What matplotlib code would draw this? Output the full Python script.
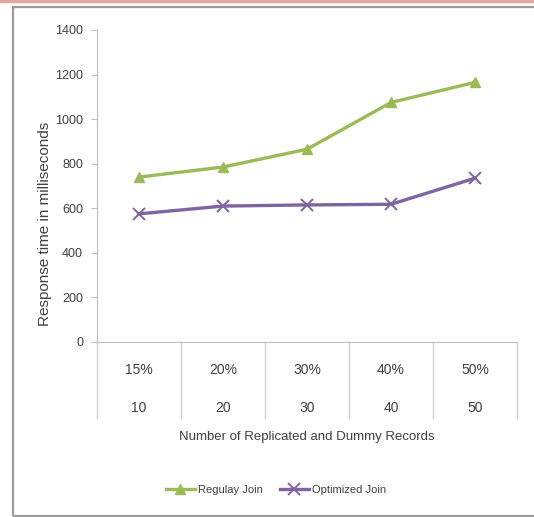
import matplotlib.pyplot as plt
from matplotlib.patches import Rectangle
from matplotlib.lines import Line2D

# Response times (ms) per share of replicated / dummy records
percent_labels = ["15%", "20%", "30%", "40%", "50%"]
record_labels = ["10", "20", "30", "40", "50"]
regular_join = [740, 785, 865, 1075, 1165]
optimized_join = [575, 610, 615, 618, 735]

W, H = 534, 517
plt.rcParams.update({
    "font.family": ["Liberation Sans", "DejaVu Sans"],
    "font.size": 8,
    "text.color": "#404040",
})

fig = plt.figure(figsize=(W / 100, H / 100), dpi=100)

# page strip and chart frame
fig.add_artist(Line2D([0, 1], [1 - 1 / H, 1 - 1 / H], transform=fig.transFigure,
                      color="#e2a3a3", lw=2.5))
fig.add_artist(Rectangle((13 / W, 1 / H), 1.2, 1 - 8 / H, transform=fig.transFigure,
                         fill=False, edgecolor="#9a9a9a", lw=1.6))

ax = fig.add_axes([97 / W, 1 - 342 / H, (517 - 97) / W, (342 - 30) / H])
x = range(len(percent_labels))
ax.plot(x, regular_join, color="#9bbb59", lw=2.4, marker="^", markersize=7,
        label="Regulay Join")
ax.plot(x, optimized_join, color="#8064a2", lw=2.4, marker="x", markersize=9,
        markeredgewidth=1.4, label="Optimized Join")

ax.set_xlim(-0.5, len(percent_labels) - 0.5)
ax.set_ylim(0, 1400)
ax.set_yticks(range(0, 1401, 200))
ax.set_xticks([])
for side in ("top", "right"):
    ax.spines[side].set_visible(False)
for side in ("left", "bottom"):
    ax.spines[side].set_color("#bfbfbf")
ax.tick_params(axis="y", colors="#bfbfbf", labelcolor="#404040", length=4, pad=6,
               labelsize=9)

# two-row category table under the axis
tr = ax.get_xaxis_transform()
for b in range(len(percent_labels) + 1):
    ax.plot([b - 0.5, b - 0.5], [0, -0.245], transform=tr, color="#d0d0d0",
            lw=1, clip_on=False)
for i in x:
    ax.text(i, -0.09, percent_labels[i], transform=tr, ha="center", va="center",
            fontsize=10)
    ax.text(i, -0.212, record_labels[i], transform=tr, ha="center", va="center",
            fontsize=10)

fig.text(307 / W, 1 - 437 / H, "Number of Replicated and Dummy Records",
         ha="center", va="center", fontsize=9.5)
fig.text(45 / W, 1 - 224 / H, "Response time in milliseconds", rotation=90,
         ha="center", va="center", fontsize=11)

fig.legend(loc="center", bbox_to_anchor=(276 / W, 1 - 490 / H), ncol=2,
           frameon=False, fontsize=8, handlelength=2.6, columnspacing=1.5,
           handletextpad=0.3)

fig.savefig("out.png", dpi=100)
